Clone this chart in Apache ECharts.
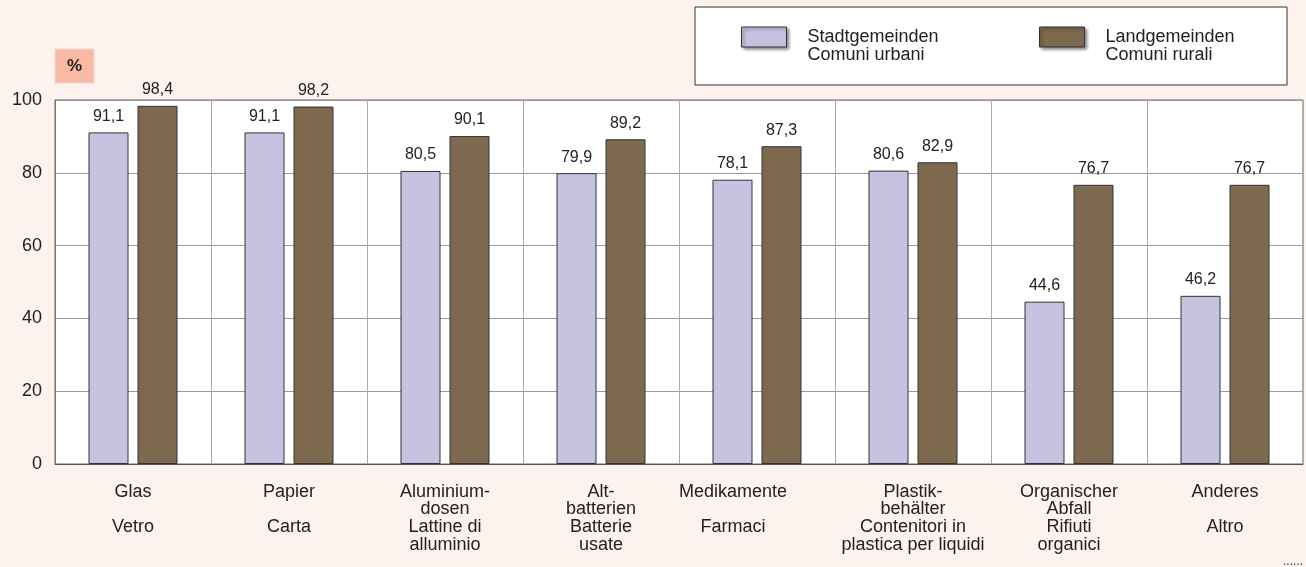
<!DOCTYPE html>
<html>
<head>
<meta charset="utf-8">
<script src="https://cdn.jsdelivr.net/npm/echarts@6/dist/echarts.min.js"></script>
<style>
html,body{margin:0;padding:0;background:#fdf2ee;}
#c{width:1306px;height:567px;}
</style>
</head>
<body>
<div id="c"></div>
<script>
const categories = [
  'Glas\n\nVetro',
  'Papier\n\nCarta',
  'Aluminium-\ndosen\nLattine di\nalluminio',
  'Alt-\nbatterien\nBatterie\nusate',
  'Medikamente\n\nFarmaci',
  'Plastik-\nbehälter\nContenitori in\nplastica per liquidi',
  'Organischer\nAbfall\nRifiuti\norganici',
  'Anderes\n\nAltro'
];
const seriesNames = ['Stadtgemeinden\nComuni urbani', 'Landgemeinden\nComuni rurali'];
const urbanValues = [91.1, 91.1, 80.5, 79.9, 78.1, 80.6, 44.6, 46.2];
const ruralValues = [98.4, 98.2, 90.1, 89.2, 87.3, 82.9, 76.7, 76.7];
const yTicks = [0, 20, 40, 60, 80, 100];
const unitLabel = '%';

const chart = echarts.init(document.getElementById('c'));
const fontFamily = '"Liberation Sans", Arial, sans-serif';
const xData = categories.map(c => c.indexOf('Medikamente') === 0
  ? { value: c, textStyle: { padding: [0, 48, 0, 0] } } : c);

const labelCfg = {
  show: true, position: 'top', distance: 8,
  fontSize: 16, color: '#222', fontFamily: fontFamily,
  formatter: p => p.value.toFixed(1).replace('.', ',')
};

const legendBase = {
  top: 5, itemWidth: 45, itemHeight: 20, icon: 'rect',
  formatter: name => '\n' + name,
  textStyle: { fontSize: 18, lineHeight: 18, color: '#222', fontFamily: fontFamily, padding: [0, 0, 0, 16] },
  itemStyle: { borderColor: '#333', borderWidth: 1, shadowBlur: 3, shadowColor: 'rgba(0,0,0,0.45)', shadowOffsetX: 2, shadowOffsetY: 2 },
  selectedMode: false
};

chart.setOption({
  backgroundColor: '#fdf2ee',
  animation: false,
  textStyle: { fontFamily: fontFamily },
  grid: { left: 55, right: 3, top: 100, bottom: 103, show: true, backgroundColor: '#ffffff', borderColor: '#666', borderWidth: 1 },
  legend: [
    Object.assign({}, legendBase, { left: 736, data: [seriesNames[0]] }),
    Object.assign({}, legendBase, { left: 1034, data: [seriesNames[1]] })
  ],
  graphic: [
    { type: 'rect', z: -10, shape: { x: 695, y: 7, width: 592, height: 78 },
      style: { fill: '#ffffff', stroke: '#333', lineWidth: 1 } },
    { type: 'rect', shape: { x: 55, y: 49, width: 39, height: 34 },
      style: { fill: '#f9b9a5', stroke: '#f0d8d0', lineWidth: 1 } },
    { type: 'text', x: 74.5, y: 66, style: { text: unitLabel, fontSize: 17, fontWeight: 'bold', fill: '#222', align: 'center', verticalAlign: 'middle', fontFamily: fontFamily } },
    { type: 'text', x: 1303, y: 562, style: { text: '......', fontSize: 12, fill: '#333', align: 'right', verticalAlign: 'middle', fontFamily: fontFamily } }
  ],
  xAxis: {
    type: 'category', data: xData,
    axisTick: { show: false },
    axisLine: { lineStyle: { color: '#555', width: 1 } },
    splitLine: { show: true, lineStyle: { color: '#aaa', width: 1 } },
    axisLabel: { interval: 0, fontSize: 18, lineHeight: 17.6, color: '#222', margin: 19, fontFamily: fontFamily }
  },
  yAxis: {
    type: 'value', min: yTicks[0], max: yTicks[yTicks.length - 1], interval: 20,
    axisLine: { show: true, lineStyle: { color: '#777' } },
    axisTick: { show: false },
    splitLine: { lineStyle: { color: '#999', width: 1 } },
    axisLabel: { fontSize: 18, color: '#222', margin: 13, fontFamily: fontFamily }
  },
  series: [
    { name: seriesNames[0], type: 'bar', data: urbanValues, barWidth: 40, barGap: '22.5%',
      itemStyle: { color: '#c6c3e0', borderColor: '#333', borderWidth: 1 }, label: labelCfg },
    { name: seriesNames[1], type: 'bar', data: ruralValues, barWidth: 40,
      itemStyle: { color: '#7e6a4f', borderColor: '#333', borderWidth: 1 }, label: labelCfg }
  ]
});
</script>
</body>
</html>
